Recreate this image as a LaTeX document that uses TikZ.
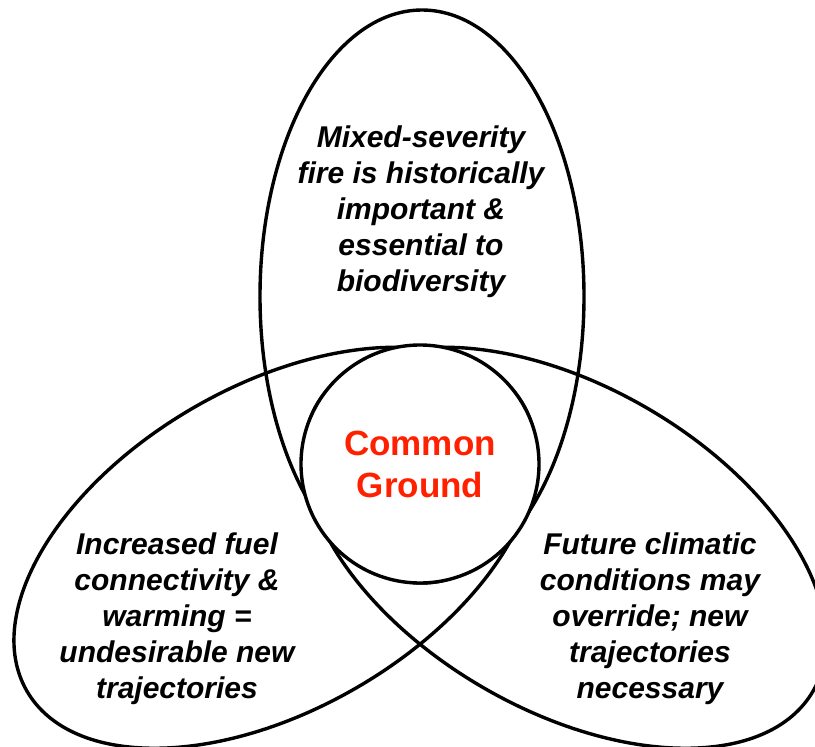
\documentclass[tikz,border=0pt]{standalone}
\usepackage{fontspec}
\setmainfont{Liberation Sans}
\definecolor{groundred}{RGB}{255,32,0}
\begin{document}
\begin{tikzpicture}[x=1pt,y=1pt,line width=3.4pt,
  lab/.style={font=\fontsize{30}{36}\selectfont\bfseries\itshape,align=center},
  mid/.style={font=\fontsize{35}{42}\selectfont\bfseries,align=center,text=groundred}]
\useasboundingbox (0,0) rectangle (815,-747);
\clip (0,0) rectangle (815,-747);
\coordinate (c) at (420,-464);
\draw (422,-296.5) ellipse [x radius=162, y radius=286.5];
\draw[rotate around={30:(275,-547.75)}] (275,-547.75) ellipse [x radius=286.5, y radius=162];
\draw[rotate around={-30:(565,-547.75)}] (565,-547.75) ellipse [x radius=286.5, y radius=162];
\draw[fill=white] (c) circle (119);
\node[lab] (hist) at (421,-212) {Mixed-severity\\fire is historically\\important \&\\essential to\\biodiversity};
\node[lab] (fuel) at (177,-619) {Increased fuel\\connectivity \&\\warming =\\undesirable new\\trajectories};
\node[lab] (clim) at (650,-619) {Future climatic\\conditions may\\override; new\\trajectories\\necessary};
\node[mid] (ground) at (c) {Common\\Ground};
\end{tikzpicture}
\end{document}
